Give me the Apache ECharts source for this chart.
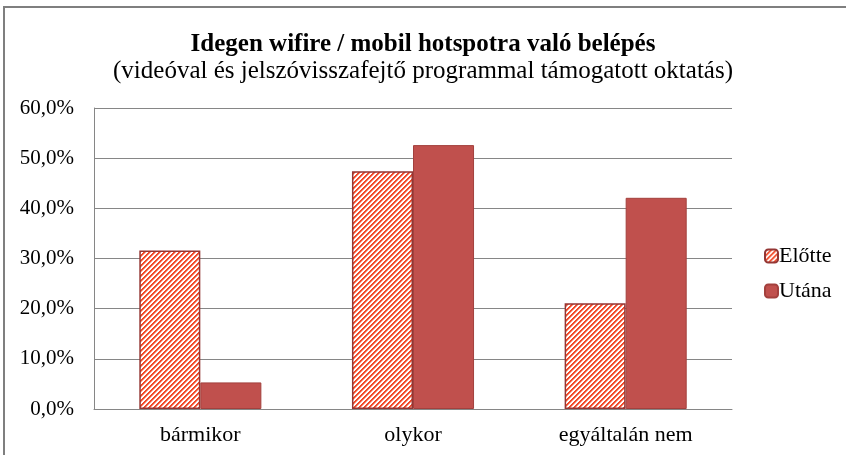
<!DOCTYPE html>
<html>
<head>
<meta charset="utf-8">
<script src="https://cdn.jsdelivr.net/npm/echarts@6/dist/echarts.min.js"></script>
<style>
  html, body { margin: 0; padding: 0; background: #fff; }
  #chart { width: 846px; height: 455px; }
</style>
</head>
<body>
<div id="chart"></div>
<script>
// adatok
var categories = ['bármikor', 'olykor', 'egyáltalán nem'];
var seriesNames = ['Előtte', 'Utána'];
var beforeValues = [31.6, 47.4, 21.1];
var afterValues = [5.3, 52.6, 42.1];
var yTicks = [0, 10, 20, 30, 40, 50, 60];

var serif = '"Liberation Serif", "DejaVu Serif", serif';

// csíkos minta (Előtte)
function makeHatch() {
  var p = 5;
  var c = document.createElement('canvas');
  c.width = p; c.height = p;
  var ctx = c.getContext('2d');
  ctx.fillStyle = '#ffffff';
  ctx.fillRect(0, 0, p, p);
  for (var x = 0; x < p; x++) {
    for (var y = 0; y < p; y++) {
      var k = (x + y) % p;
      if (k < 2) { ctx.fillStyle = '#f24a2a'; ctx.fillRect(x, y, 1, 1); }
      else if (k == 2) { ctx.fillStyle = '#f8a08c'; ctx.fillRect(x, y, 1, 1); }
    }
  }
  return c;
}

var chart = echarts.init(document.getElementById('chart'));

chart.setOption({
  animation: false,
  title: [{
    text: 'Idegen wifire / mobil hotspotra való belépés',
    left: 'center',
    top: 27,
    textStyle: { fontFamily: serif, fontSize: 25, fontWeight: 'bold', color: '#000' }
  }, {
    text: '(videóval és jelszóvisszafejtő programmal támogatott oktatás)',
    left: 'center',
    top: 54,
    textStyle: { fontFamily: serif, fontSize: 25, fontWeight: 'normal', color: '#000' }
  }],
  graphic: [{
    type: 'rect',
    shape: { x: 4, y: 7, width: 900, height: 500 },
    style: { fill: 'none', stroke: '#7f7f7f', lineWidth: 2 },
    silent: true
  }],
  legend: {
    orient: 'vertical',
    left: 759,
    top: 240,
    itemWidth: 13,
    itemHeight: 13,
    itemGap: 13,
    data: seriesNames,
    textStyle: { fontFamily: serif, fontSize: 22, color: '#000', padding: [0, 0, 0, -4] }
  },
  grid: { left: 94, right: 114, top: 108, bottom: 46 },
  xAxis: {
    type: 'category',
    data: categories,
    axisLine: { lineStyle: { color: '#868686' } },
    axisTick: { show: false },
    axisLabel: { fontFamily: serif, fontSize: 22, color: '#000', margin: 15 }
  },
  yAxis: {
    type: 'value',
    min: yTicks[0],
    max: yTicks[yTicks.length - 1],
    interval: 10,
    axisLine: { show: true, lineStyle: { color: '#868686' } },
    axisTick: { show: false },
    splitLine: { lineStyle: { color: '#868686' } },
    axisLabel: {
      fontFamily: serif, fontSize: 21, color: '#000', margin: 20,
      formatter: function (v) { return v.toFixed(1).replace('.', ',') + '%'; }
    }
  },
  series: [{
    name: seriesNames[0],
    type: 'bar',
    data: beforeValues,
    barGap: '0%',
    barCategoryGap: '42.6%',
    itemStyle: {
      color: { image: makeHatch(), repeat: 'repeat' },
      borderColor: '#943634',
      borderWidth: 1.5
    }
  }, {
    name: seriesNames[1],
    type: 'bar',
    data: afterValues,
    barGap: '0%',
    barCategoryGap: '42.6%',
    itemStyle: {
      color: '#c0504d',
      borderColor: '#a3403d',
      borderWidth: 1
    }
  }]
});
</script>
</body>
</html>
